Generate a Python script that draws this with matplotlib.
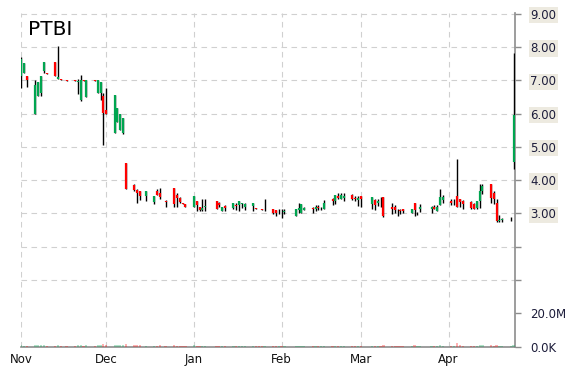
import matplotlib
matplotlib.use('Agg')
import matplotlib.pyplot as plt
import matplotlib.dates as mdates
import pandas as pd

# daily OHLC (one line per month)
dates = (
    ['2017-11-01', '2017-11-02', '2017-11-03', '2017-11-06', '2017-11-07', '2017-11-08', '2017-11-09',
     '2017-11-10', '2017-11-13', '2017-11-14', '2017-11-15', '2017-11-17', '2017-11-20', '2017-11-21',
     '2017-11-22', '2017-11-23', '2017-11-24', '2017-11-27', '2017-11-28', '2017-11-29', '2017-11-30']
    + ['2017-12-01', '2017-12-04', '2017-12-05', '2017-12-06', '2017-12-07', '2017-12-08', '2017-12-11',
       '2017-12-12', '2017-12-13', '2017-12-15', '2017-12-18', '2017-12-19', '2017-12-20', '2017-12-22',
       '2017-12-25', '2017-12-26', '2017-12-27', '2017-12-28', '2017-12-29']
    + ['2018-01-01', '2018-01-02', '2018-01-03', '2018-01-04', '2018-01-05', '2018-01-09', '2018-01-10',
       '2018-01-11', '2018-01-12', '2018-01-15', '2018-01-16', '2018-01-17', '2018-01-18', '2018-01-19',
       '2018-01-22', '2018-01-23', '2018-01-24', '2018-01-25', '2018-01-26', '2018-01-29', '2018-01-30',
       '2018-01-31']
    + ['2018-02-01', '2018-02-02', '2018-02-06', '2018-02-07', '2018-02-08', '2018-02-09', '2018-02-12',
       '2018-02-13', '2018-02-14', '2018-02-15', '2018-02-16', '2018-02-19', '2018-02-20', '2018-02-21',
       '2018-02-22', '2018-02-23', '2018-02-26', '2018-02-27', '2018-02-28']
    + ['2018-03-01', '2018-03-05', '2018-03-06', '2018-03-07', '2018-03-08', '2018-03-09', '2018-03-12',
       '2018-03-13', '2018-03-14', '2018-03-15', '2018-03-16', '2018-03-19', '2018-03-20', '2018-03-21',
       '2018-03-22', '2018-03-26', '2018-03-27', '2018-03-28', '2018-03-29', '2018-03-30']
    + ['2018-04-02', '2018-04-03', '2018-04-04', '2018-04-05', '2018-04-06', '2018-04-09', '2018-04-10',
       '2018-04-11', '2018-04-12', '2018-04-13', '2018-04-16', '2018-04-17', '2018-04-18', '2018-04-19',
       '2018-04-20', '2018-04-23', '2018-04-24']
)

opens = (
    [7.12, 7.22, 7.12, 5.99, 6.52, 6.62, 7.27, 7.22, 7.54, 7.04, 7.04, 7.00, 7.00, 6.95, 6.42, 7.00, 6.50,
     7.00, 6.62, 6.62, 6.52]
    + [6.10, 5.42, 5.74, 5.50, 5.42, 4.50, 3.85, 3.70, 3.67, 3.52, 3.35, 3.66, 3.60, 3.36, 3.77, 3.55, 3.47,
       3.32, 3.27]
    + [3.20, 3.37, 3.20, 3.10, 3.20, 3.37, 3.30, 3.07, 3.22, 3.17, 3.25, 3.24, 3.28, 3.20, 3.22, 3.17, 3.14,
       3.14, 3.12, 3.12, 3.10, 3.04]
    + [3.02, 3.05, 2.92, 3.10, 3.00, 3.10, 3.17, 3.12, 3.20, 3.17, 3.14, 3.42, 3.37, 3.52, 3.44, 3.47, 3.54,
       3.47, 3.40]
    + [3.52, 3.27, 3.39, 3.32, 3.35, 3.50, 3.20, 3.20, 3.08, 3.10, 3.12, 3.02, 3.32, 3.00, 3.12, 3.12, 3.20,
       3.07, 3.24, 3.40]
    + [3.37, 3.30, 3.52, 3.42, 3.37, 3.35, 3.27, 3.17, 3.37, 3.67, 3.87, 3.60, 3.32, 2.77, 2.80, 2.82, 4.55]
)
highs = (
    [7.70, 7.52, 7.12, 7.00, 6.94, 7.12, 7.54, 7.22, 7.54, 8.02, 7.04, 7.00, 7.00, 7.05, 7.17, 7.00, 7.00,
     7.00, 7.00, 6.94, 6.62]
    + [6.77, 6.57, 6.17, 6.00, 5.87, 4.50, 3.87, 3.72, 3.67, 3.66, 3.52, 3.72, 3.76, 3.39, 3.77, 3.62, 3.50,
       3.32, 3.27]
    + [3.52, 3.37, 3.20, 3.42, 3.44, 3.37, 3.34, 3.20, 3.24, 3.32, 3.32, 3.37, 3.32, 3.32, 3.32, 3.17, 3.14,
       3.14, 3.42, 3.12, 3.10, 3.12]
    + [3.12, 3.12, 3.12, 3.30, 3.27, 3.20, 3.20, 3.24, 3.24, 3.20, 3.40, 3.47, 3.54, 3.60, 3.60, 3.60, 3.57,
       3.52, 3.52]
    + [3.52, 3.50, 3.42, 3.42, 3.50, 3.50, 3.32, 3.24, 3.14, 3.14, 3.14, 3.14, 3.32, 3.04, 3.27, 3.22, 3.24,
       3.24, 3.72, 3.54]
    + [3.44, 3.44, 4.64, 3.44, 3.40, 3.37, 3.32, 3.37, 3.87, 3.87, 3.87, 3.67, 3.42, 2.94, 2.87, 2.90, 7.82]
)
lows = (
    [6.77, 7.22, 6.79, 5.99, 6.52, 6.52, 7.22, 7.18, 7.12, 7.04, 7.00, 6.97, 6.97, 6.60, 6.39, 6.97, 6.50,
     6.97, 6.62, 6.40, 5.04]
    + [6.00, 5.42, 5.74, 5.50, 5.37, 3.72, 3.66, 3.32, 3.40, 3.37, 3.27, 3.54, 3.42, 3.20, 3.20, 3.20, 3.32,
       3.27, 3.20]
    + [3.20, 3.07, 3.07, 3.07, 3.07, 3.14, 3.20, 3.07, 3.07, 3.12, 3.10, 3.07, 3.17, 3.10, 3.07, 3.12, 3.12,
       3.10, 3.07, 2.97, 2.92, 2.97]
    + [2.87, 2.97, 2.92, 3.00, 3.00, 3.10, 3.00, 3.07, 3.10, 3.10, 3.14, 3.24, 3.27, 3.42, 3.42, 3.37, 3.40,
       3.37, 3.22]
    + [3.20, 3.12, 3.10, 3.22, 3.20, 2.90, 2.97, 3.02, 2.92, 2.97, 3.02, 3.00, 2.92, 2.94, 3.04, 3.00, 3.12,
       3.07, 3.24, 3.32]
    + [3.24, 3.24, 3.20, 3.20, 3.14, 3.12, 3.12, 3.12, 3.17, 3.57, 3.32, 3.27, 2.74, 2.74, 2.74, 2.77, 4.34]
)
closes = (
    [7.65, 7.52, 7.02, 6.87, 6.94, 7.12, 7.54, 7.18, 7.12, 7.10, 7.00, 6.97, 6.97, 6.97, 7.00, 6.97, 7.00,
     6.97, 7.00, 6.94, 6.02]
    + [6.00, 6.57, 6.17, 6.00, 5.87, 3.72, 3.70, 3.60, 3.52, 3.66, 3.52, 3.55, 3.50, 3.35, 3.27, 3.47, 3.34,
       3.27, 3.20]
    + [3.52, 3.24, 3.10, 3.15, 3.22, 3.14, 3.25, 3.20, 3.15, 3.30, 3.22, 3.37, 3.30, 3.27, 3.30, 3.12, 3.12,
       3.10, 3.14, 3.02, 3.00, 3.05]
    + [3.00, 3.06, 3.12, 3.17, 3.27, 3.17, 3.12, 3.20, 3.15, 3.17, 3.30, 3.37, 3.54, 3.47, 3.54, 3.52, 3.44,
       3.42, 3.47]
    + [3.42, 3.50, 3.24, 3.37, 3.33, 2.92, 3.14, 3.10, 3.06, 3.08, 3.08, 3.14, 3.10, 3.02, 3.20, 3.20, 3.14,
       3.20, 3.50, 3.50]
    + [3.32, 3.32, 3.20, 3.34, 3.27, 3.17, 3.12, 3.37, 3.67, 3.82, 3.47, 3.42, 2.77, 2.80, 2.82, 2.84, 5.97]
)
# volume in millions of shares
volumes = (
    [0.8, 0.5, 0.4, 0.9, 0.6, 0.6, 0.6, 0.3, 0.4, 1.1, 0.3, 0.3, 0.3, 0.6, 0.8, 0.3, 0.6, 0.3, 0.6, 0.6, 1.4]
    + [0.8, 1.1, 0.6, 0.6, 0.6, 1.6, 0.8, 0.6, 0.6, 0.5, 0.5, 0.5, 0.6, 0.5, 0.6, 0.5, 0.5, 0.3, 0.3]
    + [0.6, 0.5, 0.5, 0.5, 0.5, 0.5, 0.5, 0.3, 0.5, 0.5, 0.3, 0.5, 0.3, 0.5, 0.5, 0.3, 0.3, 0.3, 0.5, 0.5,
       0.5, 0.5]
    + [0.5, 0.5, 0.5, 0.5, 0.5, 0.3, 0.5, 0.3, 0.3, 0.3, 0.5, 0.5, 0.5, 0.5, 0.3, 0.5, 0.3, 0.3, 0.5]
    + [0.5, 0.5, 0.5, 0.3, 0.5, 0.8, 0.5, 0.5, 0.3, 0.3, 0.3, 0.3, 0.6, 0.3, 0.3, 0.3, 0.3, 0.3, 0.6, 0.5]
    + [0.5, 0.5, 2.2, 0.6, 0.5, 0.5, 0.5, 0.5, 0.8, 0.6, 0.6, 0.5, 0.9, 0.5, 0.5, 0.3, 0.8]
)

price_ticks = [1, 2, 3, 4, 5, 6, 7, 8, 9]
price_labels = ['', '', '3.00', '4.00', '5.00', '6.00', '7.00', '8.00', '9.00']
vol_ticks = [0, 20e6]
vol_labels = ['0.0K', '20.0M']

GREEN = '#00a550'
RED = '#ff0000'
GRID = '#d0d0d0'
SPINE = '#8c8c8c'

x = mdates.date2num(pd.to_datetime(dates))
body_lo = [min(o, c) for o, c in zip(opens, closes)]
body_hi = [max(o, c) for o, c in zip(opens, closes)]
colors = [GREEN if c >= o else RED for o, c in zip(opens, closes)]

fig = plt.figure(figsize=(5.7, 3.7), dpi=100)
ax = fig.add_axes([21 / 570, 1 - 346.5 / 370, (515 - 21) / 570, (346.5 - 13.0) / 370])

# volume on its own scale in the bottom strip (twinx resets the price ticks, so made first)
vax = ax.twinx()
vax.bar(x, [v * 1e6 for v in volumes], width=0.8, color=colors, alpha=0.3, zorder=2)
vax.set_ylim(0, 200e6)
vax.set_yticks(vol_ticks)
vax.set_yticklabels(vol_labels)
vax.tick_params(axis='y', direction='out', length=4, width=1, color=SPINE, pad=7,
                labelsize=8.5, labelcolor='#1c1c3a')
for side in ['left', 'top', 'right', 'bottom']:
    vax.spines[side].set_visible(False)

ax.vlines(x, lows, highs, color='black', linewidth=1.0, zorder=3)
ax.vlines(x, body_lo, body_hi, colors=colors, linewidth=1.6, zorder=4)

ax.set_ylim(-1, 9.02)
ax.set_xlim(x[0] - 0.1, x[-1] + 0.5)

ax.xaxis.set_major_locator(mdates.MonthLocator())
ax.xaxis.set_major_formatter(mdates.DateFormatter('%b'))
ax.tick_params(axis='x', length=0, pad=5, labelsize=8.5, labelcolor='#111111')

ax.yaxis.tick_right()
ax.set_yticks(price_ticks)
ax.set_yticklabels(price_labels)
ax.tick_params(axis='y', which='both', left=False, labelleft=False, right=True, labelright=True,
               direction='out', length=4, width=1, color=SPINE, pad=7,
               labelsize=8.5, labelcolor='#1c1c3a')
for lbl in ax.get_yticklabels():
    lbl.set_bbox(dict(facecolor='#edeae0', edgecolor='none', pad=1.2))

ax.grid(True, color=GRID, linestyle=(0, (5, 4)), linewidth=0.8)
ax.set_axisbelow(True)

for side in ['left', 'top']:
    ax.spines[side].set_visible(False)
for side in ['right', 'bottom']:
    ax.spines[side].set_color(SPINE)
    ax.spines[side].set_linewidth(1.2)

ax.text(0.015, 0.978, 'PTBI', transform=ax.transAxes, fontsize=14.5, va='top', ha='left', color='black')

fig.savefig('out.png', dpi=100)
